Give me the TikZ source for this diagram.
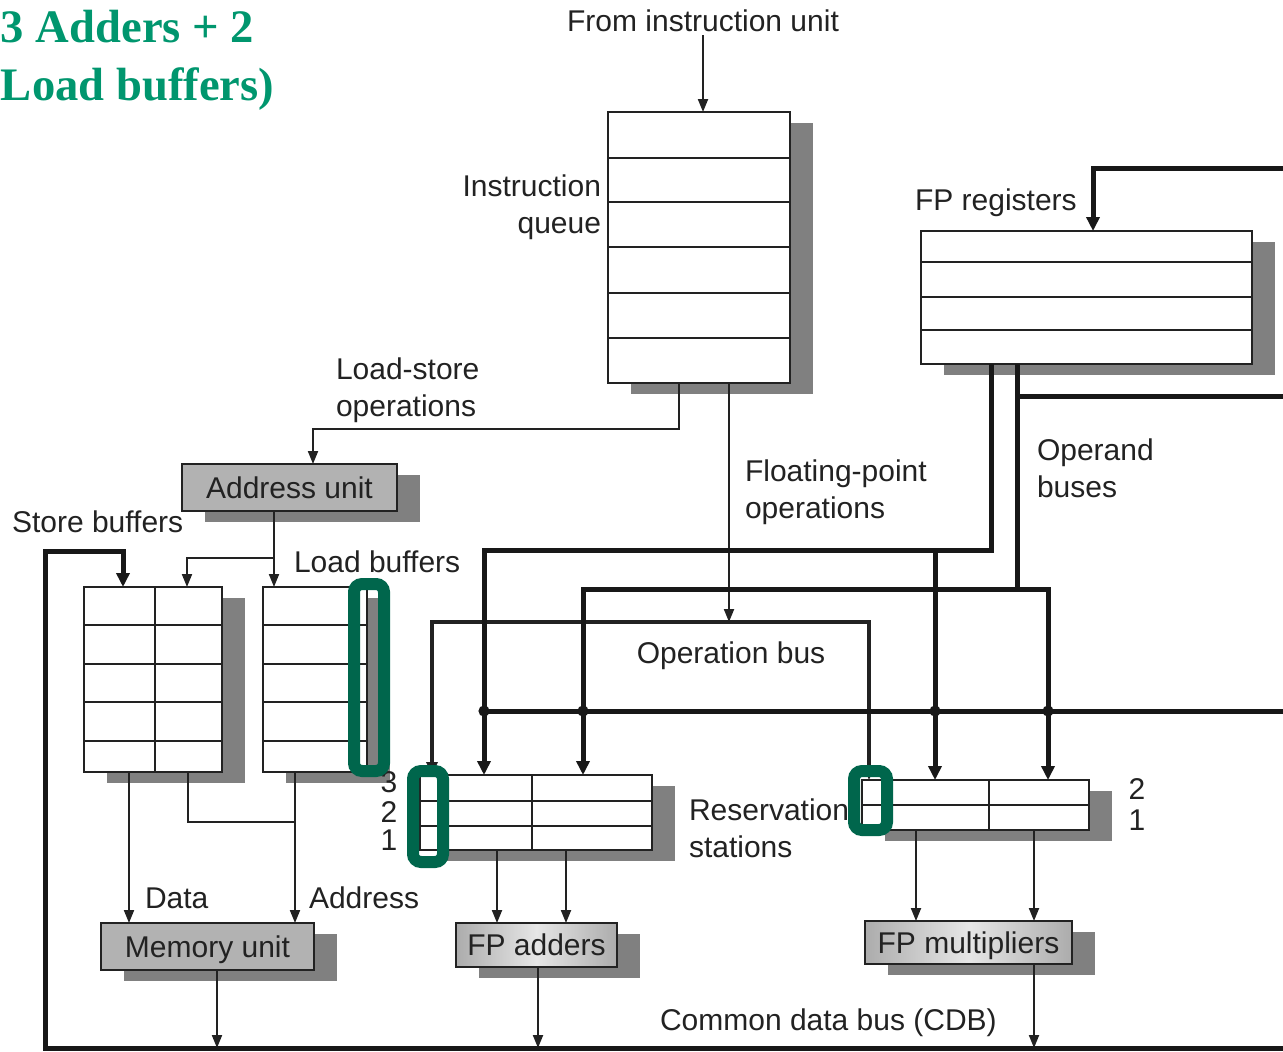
\documentclass[tikz,border=0pt]{standalone}
\usepackage{fontspec}
\setmainfont{Liberation Sans}
\newfontfamily\titlefont{Liberation Serif}
\usetikzlibrary{arrows.meta,shadows,calc}
\definecolor{titlegreen}{RGB}{0,150,110}
\definecolor{hlgreen}{RGB}{0,102,76}
\definecolor{shadowgray}{RGB}{128,128,128}
\definecolor{unitgray}{RGB}{178,178,178}
\definecolor{fpedge}{RGB}{172,172,172}
\definecolor{fpmid}{RGB}{230,230,230}
\definecolor{inkc}{RGB}{34,34,34}
\definecolor{busc}{RGB}{24,24,24}
\newcommand\lblfont{\fontsize{15pt}{18.5pt}\selectfont}
\newcommand\ttlfont{\titlefont\bfseries\fontsize{23.3pt}{28pt}\selectfont}
\begin{document}
\begin{tikzpicture}[x=0.5pt,y=-0.5pt,
  lbl/.style={font=\lblfont, text=inkc, inner sep=0pt, outer sep=0pt},
  ttl/.style={font=\ttlfont, text=titlegreen, inner sep=0pt, outer sep=0pt},
  box/.style={draw=inkc, line width=1pt, fill=white, inner sep=0pt, outer sep=0pt, anchor=north west,
    general shadow={fill=shadowgray, shadow xshift=11.5pt, shadow yshift=-5.5pt}},
  unit/.style={box, fill=unitgray, font=\lblfont, text=inkc, text height=10.7pt, text depth=0pt},
  fpunit/.style={unit, left color=fpedge, right color=fpedge, middle color=fpmid},
  rowln/.style={draw=inkc, line width=0.8pt},
  thinln/.style={draw=inkc, line width=1pt},
  medln/.style={draw=inkc, line width=1.6pt},
  busln/.style={draw=busc, line width=2.5pt},
  tipthin/.style={-{Triangle[length=6.5pt,width=5pt]}},
  tipthick/.style={-{Triangle[length=7pt,width=6.5pt]}},
  hl/.style={draw=hlgreen, line width=6pt, rounded corners=4pt},
  dot/.style={fill=busc}
]
\useasboundingbox (0,0) rectangle (1283,1051);

% ---- title ----
\node[ttl, anchor=base west] (t1) at (1,42) {3 Adders + 2};
\node[ttl, anchor=base west] (t2) at (1,100) {Load buffers)};

% ---- boxes ----
\node[box, minimum width=91pt, minimum height=135.5pt] (iq) at (608,112) {};
\foreach \y in {158,202,247,293,338} \draw[rowln] (608,\y) -- (790,\y);

\node[box, minimum width=165.5pt, minimum height=66.5pt] (fpr) at (921,231) {};
\foreach \y in {262,297,330} \draw[rowln] (921,\y) -- (1252,\y);

\node[unit, minimum width=107.5pt, minimum height=23.5pt] (au) at (182,464) {Address unit};

\node[box, minimum width=69pt, minimum height=92.5pt] (sb) at (84,587) {};
\foreach \y in {625,664,702,741} \draw[rowln] (84,\y) -- (222,\y);
\draw[rowln] (155,587) -- (155,772);

\node[box, minimum width=52pt, minimum height=92.5pt] (lb) at (263,587) {};
\foreach \y in {625,664,702,741} \draw[rowln] (263,\y) -- (367,\y);

\node[unit, minimum width=106.5pt, minimum height=23.5pt] (mu) at (101,923) {Memory unit};

\node[box, minimum width=116pt, minimum height=37.5pt] (rsa) at (420,775) {};
\foreach \y in {801,826} \draw[rowln] (420,\y) -- (652,\y);
\draw[rowln] (532,775) -- (532,850);

\node[box, minimum width=113.5pt, minimum height=25pt] (rsm) at (862,780) {};
\draw[rowln] (862,805) -- (1089,805);
\draw[rowln] (989,780) -- (989,830);

\node[fpunit, minimum width=80.5pt, minimum height=22pt] (fpa) at (456,923) {FP adders};
\node[fpunit, minimum width=103.5pt, minimum height=21.5pt] (fpm) at (865,921) {FP multipliers};

% ---- labels (base = baseline of last line) ----
\node[lbl, anchor=base] (fiu) at (703,31) {From instruction unit};
\node[lbl, anchor=base east, align=right] (iql) at (601,233) {Instruction\\queue};
\node[lbl, anchor=base west, align=left] (lso) at (336,416) {Load-store\\operations};
\node[lbl, anchor=base west, align=left] (fpo) at (745,518) {Floating-point\\operations};
\node[lbl, anchor=base west] (fprl) at (915,210) {FP registers};
\node[lbl, anchor=base west, align=left] (opl) at (1037,497) {Operand\\buses};
\node[lbl, anchor=base west] (sbl) at (12,532) {Store buffers};
\node[lbl, anchor=base west] (lbtxt) at (294,572) {Load buffers};
\node[lbl, anchor=base] (obl) at (731,663) {Operation bus};
\node[lbl, anchor=base west, align=left] (rsl) at (689,857) {Reservation\\stations};
\node[lbl, anchor=base] (n3) at (389,792) {3};
\node[lbl, anchor=base] (n2) at (389,822) {2};
\node[lbl, anchor=base] (n1) at (389,850) {1};
\node[lbl, anchor=base] (m2) at (1137,799) {2};
\node[lbl, anchor=base] (m1) at (1137,830) {1};
\node[lbl, anchor=base west] (datal) at (145,908) {Data};
\node[lbl, anchor=base west] (addrl) at (309,908) {Address};
\node[lbl, anchor=base west] (cdbl) at (660,1030) {Common data bus (CDB)};

% ---- columns / rows for routing ----
\coordinate (xA) at (679,0);  \coordinate (xB) at (729,0);
\coordinate (xC) at (313,0);  \coordinate (xD) at (274,0);
\coordinate (xE) at (187,0);  \coordinate (xF) at (123,0);
\coordinate (xG) at (129,0);  \coordinate (xH) at (188,0);
\coordinate (xI) at (295,0);  \coordinate (xJ) at (217,0);
\coordinate (xK) at (497,0);  \coordinate (xL) at (566,0);
\coordinate (xM) at (538,0);  \coordinate (xN) at (916,0);
\coordinate (xO) at (1034,0); \coordinate (xP) at (432,0);
\coordinate (xQ) at (869,0);  \coordinate (xR) at (991,0);
\coordinate (xS) at (484,0);  \coordinate (xT) at (935,0);
\coordinate (xU) at (1017,0); \coordinate (xV) at (583,0);
\coordinate (xW) at (1048,0); \coordinate (xX) at (1093,0);
\coordinate (xY) at (45,0);   \coordinate (xZ) at (1295,0);
\coordinate (yls) at (0,429); \coordinate (yau) at (0,558);
\coordinate (ycdbtop) at (0,551); \coordinate (ysb) at (0,822);
\coordinate (ycdb) at (0,1048); \coordinate (yob) at (0,622);
\coordinate (yr1) at (0,550); \coordinate (yr2) at (0,589);
\coordinate (yr3) at (0,396); \coordinate (ytop) at (0,168);
\coordinate (ybus) at (0,711);

% ---- thin connectors ----
\draw[thinln,tipthin] ([yshift=-2pt]fiu.south) -- (fiu.south |- iq.north);
\draw[thinln,tipthin] (iq.south -| xA) -- (xA |- yls) -| (au.north -| xC);
\draw[thinln,tipthin] (iq.south -| xB) -- (xB |- yob);
\draw[thinln,tipthin] (au.south -| xD) -- (lb.north -| xD);
\draw[thinln,tipthin] (xD |- yau) -| (sb.north -| xE);
\draw[thinln,tipthin] (sb.south -| xG) -- (mu.north -| xG);
\draw[thinln] (sb.south -| xH) |- (xI |- ysb);
\draw[thinln,tipthin] (lb.south -| xI) -- (mu.north -| xI);
\draw[thinln,tipthin] (mu.south -| xJ) -- (xJ |- ycdb);
\draw[thinln,tipthin] (rsa.south -| xK) -- (fpa.north -| xK);
\draw[thinln,tipthin] (rsa.south -| xL) -- (fpa.north -| xL);
\draw[thinln,tipthin] (fpa.south -| xM) -- (xM |- ycdb);
\draw[thinln,tipthin] (rsm.south -| xN) -- (fpm.north -| xN);
\draw[thinln,tipthin] (rsm.south -| xO) -- (fpm.north -| xO);
\draw[thinln,tipthin] (fpm.south -| xO) -- (xO |- ycdb);

% ---- operation bus ----
\draw[medln,{Triangle[length=6.5pt,width=5.5pt]}-{Triangle[length=6.5pt,width=5.5pt]}]
  (rsa.north -| xP) |- (xQ |- yob) -- (rsm.north -| xQ);

% ---- operand buses and CDB ----
\draw[busln,tipthick] (xZ |- ycdb) -| (xY |- ycdbtop) -| (sb.north -| xF);
\draw[busln,tipthick] (fpr.south -| xR) |- (xS |- yr1) -- (rsa.north -| xS);
\draw[busln,tipthick] (xT |- yr1) -- (rsm.north -| xT);
\draw[busln,tipthick] (fpr.south -| xU) |- (xV |- yr2) -- (rsa.north -| xV);
\draw[busln,tipthick] (xU |- yr2) -| (rsm.north -| xW);
\draw[busln] (xU |- yr3) -- (xZ |- yr3);
\draw[busln,tipthick] (xZ |- ytop) -| (fpr.north -| xX);
\draw[busln] (xS |- ybus) -- (xZ |- ybus);
\foreach \c in {xS,xV,xT,xW} \fill[dot] (\c |- ybus) circle[radius=2.8pt];

% ---- highlights ----
\draw[hl] (354,584) rectangle (384,771);
\draw[hl] (413,771) rectangle (443,862);
\draw[hl] (854,771) rectangle (887,830);
\end{tikzpicture}
\end{document}
